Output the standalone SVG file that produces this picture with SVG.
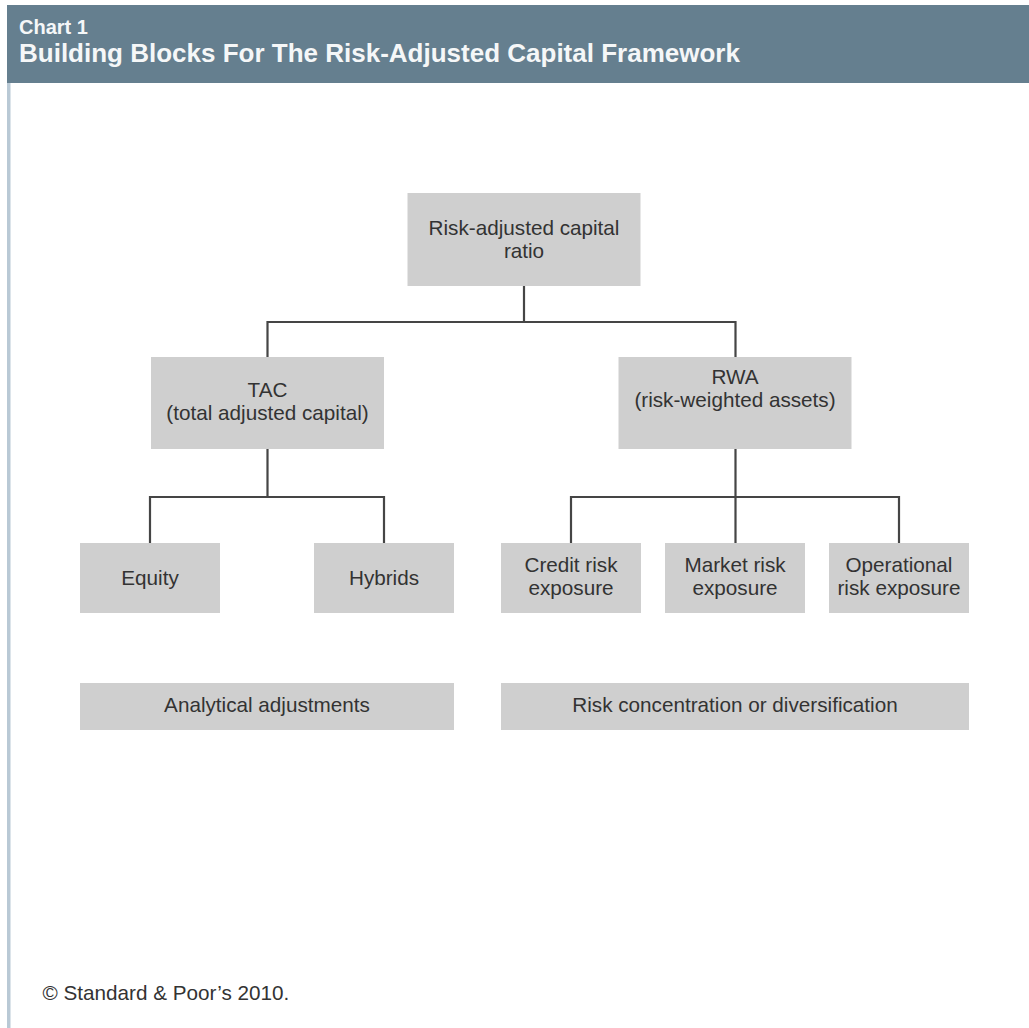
<svg xmlns="http://www.w3.org/2000/svg" width="1029" height="1028" viewBox="0 0 1029 1028">
  <style>
    .node rect { fill: #cfcfcf; }
    .node text { font-family: "Liberation Sans", Arial, sans-serif; font-size: 20.7px; fill: #333333; text-anchor: middle; }
    .conn { fill: none; stroke: #454545; stroke-width: 2.2; }
    .hdr { font-family: "Liberation Sans", Arial, sans-serif; font-weight: bold; fill: #f5f7f8; }
    .foot { font-family: "Liberation Sans", Arial, sans-serif; font-size: 20.7px; fill: #333333; }
  </style>
  <rect x="0" y="0" width="1029" height="1028" fill="#ffffff"/>
  <g id="header">
    <rect x="7" y="5" width="1022" height="78" fill="#657f8f"/>
    <rect x="7" y="83" width="3.5" height="945" fill="#b9c9d5"/>
    <text class="hdr" x="19" y="34" font-size="20">Chart 1</text>
    <text class="hdr" x="19" y="62" font-size="26">Building Blocks For The Risk-Adjusted Capital Framework</text>
  </g>
  <g id="connectors">
    <path class="conn" d="M524 286 V322 M267.5 357 V322 H735.5 V357"/>
    <path class="conn" d="M267.5 449 V497 M150 543 V497 H384 V543"/>
    <path class="conn" d="M735.5 449 V543 M571 543 V497 H899 V543"/>
  </g>
  <g id="node-rac" class="node">
    <rect x="407.5" y="193" width="233" height="93"/>
    <text x="524" y="235">Risk-adjusted capital</text>
    <text x="524" y="258">ratio</text>
  </g>
  <g id="node-tac" class="node">
    <rect x="151" y="357" width="233" height="92"/>
    <text x="267.5" y="397">TAC</text>
    <text x="267.5" y="420">(total adjusted capital)</text>
  </g>
  <g id="node-rwa" class="node">
    <rect x="618.5" y="357" width="233" height="92"/>
    <text x="735" y="383.5">RWA</text>
    <text x="735" y="407">(risk-weighted assets)</text>
  </g>
  <g id="node-equity" class="node">
    <rect x="80" y="543" width="140" height="70"/>
    <text x="150" y="584.5">Equity</text>
  </g>
  <g id="node-hybrids" class="node">
    <rect x="314" y="543" width="140" height="70"/>
    <text x="384" y="584.5">Hybrids</text>
  </g>
  <g id="node-credit" class="node">
    <rect x="501" y="543" width="140" height="70"/>
    <text x="571" y="572">Credit risk</text>
    <text x="571" y="595">exposure</text>
  </g>
  <g id="node-market" class="node">
    <rect x="665" y="543" width="140" height="70"/>
    <text x="735" y="572">Market risk</text>
    <text x="735" y="595">exposure</text>
  </g>
  <g id="node-operational" class="node">
    <rect x="829" y="543" width="140" height="70"/>
    <text x="899" y="572">Operational</text>
    <text x="899" y="595">risk exposure</text>
  </g>
  <g id="node-analytical" class="node">
    <rect x="80" y="683" width="374" height="47"/>
    <text x="267" y="712">Analytical adjustments</text>
  </g>
  <g id="node-concentration" class="node">
    <rect x="501" y="683" width="468" height="47"/>
    <text x="735" y="712">Risk concentration or diversification</text>
  </g>
  <text class="foot" x="42.5" y="1000">© Standard &amp; Poor’s 2010.</text>
</svg>
